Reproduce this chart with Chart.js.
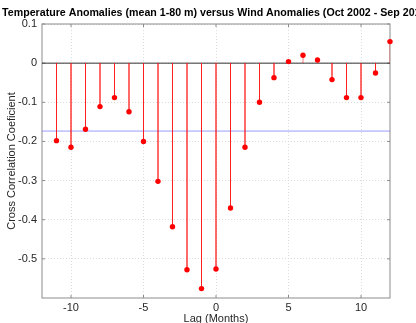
<!DOCTYPE html>
<html>
<head>
<meta charset="utf-8">
<script src="https://cdn.jsdelivr.net/npm/chart.js@4"></script>
<style>
  html, body { margin: 0; padding: 0; background: #fff; overflow: hidden; }
  canvas { display: block; }
</style>
</head>
<body>
<canvas id="xcorrChart" width="416" height="323"></canvas>
<script>
// Lag in months and cross correlation at each lag
const lags = [-11, -10, -9, -8, -7, -6, -5, -4, -3, -2, -1, 0, 1, 2, 3, 4, 5, 6, 7, 8, 9, 10, 11, 12];
const corr = [-0.198, -0.215, -0.169, -0.111, -0.088, -0.124, -0.200, -0.302, -0.418, -0.528, -0.576, -0.526,
              -0.370, -0.215, -0.100, -0.037, 0.004, 0.020, 0.008, -0.042, -0.088, -0.088, -0.025, 0.055];
// Significance level (horizontal blue line)
const sigLevel = -0.1735;
const xTicks = [-10, -5, 0, 5, 10];
const yTicks = [-0.5, -0.4, -0.3, -0.2, -0.1, 0, 0.1];
const xRange = [-12, 12];
const yRange = [-0.6, 0.1];

const titleText = "Temperature Anomalies (mean 1-80 m) versus Wind Anomalies (Oct 2002 - Sep 2012)";
const tickColor = "#262626";
const axisFont = { family: "'Liberation Sans', Arial, sans-serif", size: 11 };

// stems: baseline -> value, broken by nulls
const stemPoints = lags.flatMap((lag, i) => [
    { x: lag, y: 0 },
    { x: lag, y: corr[i] },
    { x: lag, y: null },
]);
const dotPoints = lags.map((lag, i) => ({ x: lag, y: corr[i] }));

// title centred over the plot area, like the axes title
const axesTitle = {
    id: "axesTitle",
    afterDraw(chart) {
        const { ctx, chartArea } = chart;
        ctx.save();
        ctx.font = "bold 10.65px 'Liberation Sans', Arial, sans-serif";
        ctx.fillStyle = "#000";
        ctx.textAlign = "center";
        ctx.textBaseline = "alphabetic";
        ctx.fillText(titleText, (chartArea.left + chartArea.right) / 2, 16);
        ctx.restore();
    },
};

// closed axes box with inward tick marks on all four sides
const axesBox = {
    id: "axesBox",
    beforeDatasetsDraw(chart) {
        const { ctx, chartArea: a, scales } = chart;
        const tickLen = 3;
        ctx.save();
        ctx.strokeStyle = "#8c8c8c";
        ctx.lineWidth = 1;
        ctx.strokeRect(a.left, a.top, a.right - a.left, a.bottom - a.top);
        ctx.beginPath();
        xTicks.forEach((v) => {
            const px = scales.x.getPixelForValue(v);
            ctx.moveTo(px, a.bottom);
            ctx.lineTo(px, a.bottom - tickLen);
            ctx.moveTo(px, a.top);
            ctx.lineTo(px, a.top + tickLen);
        });
        yTicks.forEach((v) => {
            const py = scales.y.getPixelForValue(v);
            ctx.moveTo(a.left, py);
            ctx.lineTo(a.left + tickLen, py);
            ctx.moveTo(a.right, py);
            ctx.lineTo(a.right - tickLen, py);
        });
        ctx.stroke();
        ctx.restore();
    },
};

const ctx = document.getElementById("xcorrChart").getContext("2d");
new Chart(ctx, {
    type: "line",
    data: {
        datasets: [
            {
                // correlation values
                data: dotPoints,
                showLine: false,
                pointRadius: 2.7,
                pointBackgroundColor: "#ff0000",
                pointBorderWidth: 0,
                clip: false,
                order: 0,
            },
            {
                data: stemPoints,
                borderColor: "rgba(255, 0, 0, 0.5)",
                borderWidth: 1,
                pointRadius: 0,
                spanGaps: false,
                order: 1,
            },
            {
                // zero baseline
                data: xRange.map((x) => ({ x: x, y: 0 })),
                borderColor: "#333333",
                borderWidth: 1,
                pointRadius: 0,
                order: 2,
            },
            {
                data: xRange.map((x) => ({ x: x, y: sigLevel })),
                borderColor: "rgba(90, 90, 255, 0.6)",
                borderWidth: 1,
                pointRadius: 0,
                order: 3,
            },
        ],
    },
    options: {
        responsive: false,
        animation: false,
        devicePixelRatio: 1,
        layout: { padding: { left: 0, right: 26, top: 24, bottom: 0 } },
        scales: {
            x: {
                type: "linear",
                min: xRange[0],
                max: xRange[1],
                afterBuildTicks: (scale) => { scale.ticks = xTicks.map((v) => ({ value: v })); },
                afterFit: (scale) => { scale.height = 25; },
                grid: { color: "#dcdcdc", drawTicks: false },
                border: { display: false, dash: [1, 2] },
                ticks: { color: tickColor, font: axisFont, padding: 3, maxRotation: 0 },
                title: {
                    display: true,
                    text: "Lag (Months)",
                    color: tickColor,
                    font: axisFont,
                    padding: { top: 0, bottom: -3 },
                },
            },
            y: {
                type: "linear",
                min: yRange[0],
                max: yRange[1],
                afterBuildTicks: (scale) => { scale.ticks = yTicks.map((v) => ({ value: v })); },
                afterFit: (scale) => { scale.width = 42; },
                grid: { color: "#dcdcdc", drawTicks: false },
                border: { display: false, dash: [1, 2] },
                ticks: {
                    color: tickColor,
                    font: axisFont,
                    padding: 5,
                    callback: (v) => String(Math.round(v * 10) / 10),
                },
                title: {
                    display: true,
                    text: "Cross Correlation Coeficient",
                    color: tickColor,
                    font: axisFont,
                    padding: { top: 5, bottom: 0 },
                },
            },
        },
        plugins: {
            legend: { display: false },
            tooltip: { enabled: false },
        },
    },
    plugins: [axesBox, axesTitle],
});
</script>
</body>
</html>
